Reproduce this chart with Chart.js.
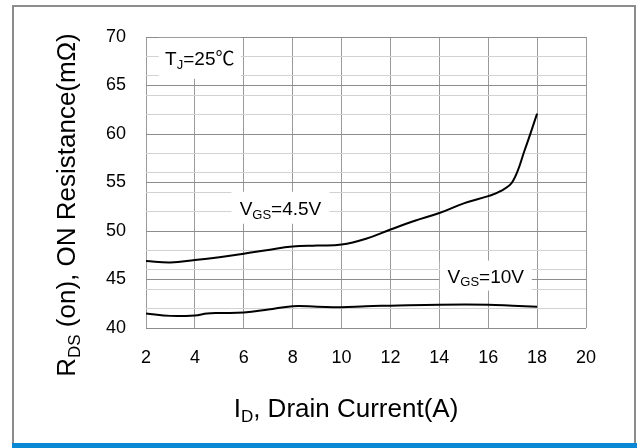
<!DOCTYPE html>
<html>
<head>
<meta charset="utf-8">
<script src="https://cdn.jsdelivr.net/npm/chart.js@4"></script>
<style>
  html, body { margin: 0; padding: 0; background: #fff; }
  canvas { display: block; }
</style>
</head>
<body>
<canvas id="chart" width="637" height="448"></canvas>
<script>
// values
var vgs45Current = [2, 3, 4, 5, 6, 7, 8, 9, 10, 11, 12, 13, 14, 15, 16, 16.5, 17, 17.5, 18];
var vgs45Rds = [46.9, 46.75, 47.0, 47.3, 47.65, 48.05, 48.4, 48.5, 48.6, 49.2, 50.15, 51.05, 51.85, 52.85, 53.6, 54.1, 55.1, 58.4, 62.1];

var vgs10Current = [2, 3, 4, 4.5, 5, 6, 7, 8, 9, 10, 11, 12, 14, 16, 17, 18];
var vgs10Rds = [41.5, 41.25, 41.3, 41.5, 41.55, 41.6, 41.9, 42.25, 42.2, 42.15, 42.25, 42.3, 42.4, 42.4, 42.3, 42.2];

var xTicks = [2, 4, 6, 8, 10, 12, 14, 16, 18, 20];
var yTicks = [40, 45, 50, 55, 60, 65, 70];

var FONT = '"Liberation Sans", Arial, "Noto Sans CJK SC", sans-serif';

function toPoints(xs, ys) {
  return xs.map(function (x, i) {
    return { x: x, y: ys[i] };
  });
}

// draw text made of normal + subscript parts, centred on x
function drawRich(ctx, parts, x, y, size) {
  var subSize = Math.round(size * 0.66);
  var widths = parts.map(function (p) {
    ctx.font = (p.sub ? subSize : size) + 'px ' + FONT;
    return ctx.measureText(p.t).width;
  });
  var total = widths.reduce(function (a, b) { return a + b; }, 0);
  var cx = x - total / 2;
  ctx.textAlign = 'left';
  ctx.textBaseline = 'alphabetic';
  parts.forEach(function (p, i) {
    ctx.font = (p.sub ? subSize : size) + 'px ' + FONT;
    ctx.fillText(p.t, cx, p.sub ? y + size * 0.2 : y);
    cx += widths[i];
  });
  return total;
}

var labels = [
  { x: 4.2, y: 67.8, w: 82, h: 41, parts: [{ t: 'T' }, { t: 'J', sub: true }, { t: '=25℃' }] },
  { x: 7.5, y: 52.4, w: 98, h: 32, parts: [{ t: 'V' }, { t: 'GS', sub: true }, { t: '=4.5V' }] },
  { x: 15.9, y: 45.4, w: 92, h: 30, parts: [{ t: 'V' }, { t: 'GS', sub: true }, { t: '=10V' }] }
];

var framePlugin = {
  id: 'frame',
  beforeDraw: function (chart) {
    var ctx = chart.ctx;
    ctx.save();
    ctx.fillStyle = '#fff';
    ctx.fillRect(0, 0, chart.width, chart.height);
    ctx.strokeStyle = '#8c8c8c';
    ctx.lineWidth = 2;
    ctx.strokeRect(13, 6, 622, 445);
    ctx.fillStyle = '#0a88d4';
    ctx.fillRect(12, 443, 625, 5);
    ctx.restore();
  },
  beforeDatasetsDraw: function (chart) {
    var ctx = chart.ctx;
    var xs = chart.scales.x, ys = chart.scales.y;
    ctx.save();
    labels.forEach(function (l) {
      var px = xs.getPixelForValue(l.x);
      var py = ys.getPixelForValue(l.y);
      ctx.fillStyle = '#fff';
      ctx.fillRect(px - l.w / 2, py - l.h / 2, l.w, l.h);
      ctx.fillStyle = '#000';
      drawRich(ctx, l.parts, px, py + 7, 19);
    });
    ctx.restore();
  },
  afterDraw: function (chart) {
    var ctx = chart.ctx;
    ctx.save();
    ctx.fillStyle = '#000';
    drawRich(ctx, [{ t: 'I' }, { t: 'D', sub: true }, { t: ', Drain Current(A)' }], 346, 417, 26);
    ctx.translate(75, 205);
    ctx.rotate(-Math.PI / 2);
    drawRich(ctx, [{ t: 'R' }, { t: 'DS', sub: true }, { t: ' (on), ON Resistance(mΩ)' }], 0, 0, 26);
    ctx.restore();
  }
};

var ctx = document.getElementById('chart').getContext('2d');

var config = {
  type: 'line',
  data: {
    datasets: [
      {
        label: 'VGS=4.5V',
        data: toPoints(vgs45Current, vgs45Rds),
        borderColor: '#000',
        borderWidth: 2,
        pointRadius: 0,
        tension: 0.4,
        fill: false
      },
      {
        label: 'VGS=10V',
        data: toPoints(vgs10Current, vgs10Rds),
        borderColor: '#000',
        borderWidth: 2,
        pointRadius: 0,
        tension: 0.4,
        fill: false
      }
    ]
  },
  options: {
    responsive: false,
    animation: false,
    devicePixelRatio: 1,
    layout: { padding: { top: 37, right: 51, bottom: 80, left: 46 } },
    plugins: {
      legend: { display: false },
      tooltip: { enabled: false }
    },
    scales: {
      x: {
        type: 'linear',
        min: xTicks[0],
        max: xTicks[xTicks.length - 1],
        afterBuildTicks: function (scale) {
          scale.ticks = xTicks.map(function (v) { return { value: v }; });
        },
        afterFit: function (scale) { scale.height = 40; },
        ticks: {
          autoSkip: false,
          maxRotation: 0,
          padding: 19,
          color: '#000',
          font: { family: FONT, size: 18 }
        },
        grid: { color: '#9a9a9a', lineWidth: 1, drawTicks: false },
        border: { display: false }
      },
      y: {
        type: 'linear',
        min: yTicks[0],
        max: yTicks[yTicks.length - 1],
        afterBuildTicks: function (scale) {
          var t = [];
          for (var v = yTicks[0]; v <= yTicks[yTicks.length - 1]; v += 1) t.push({ value: v });
          scale.ticks = t;
        },
        afterFit: function (scale) { scale.width = 100; },
        ticks: {
          autoSkip: false,
          padding: 20,
          color: '#000',
          font: { family: FONT, size: 18 },
          callback: function (value) {
            return yTicks.indexOf(value) >= 0 ? String(value) : '';
          }
        },
        grid: {
          drawTicks: false,
          lineWidth: 1,
          color: function (c) {
            var v = c.tick ? c.tick.value : 0;
            if (yTicks.indexOf(v) >= 0) return '#8c8c8c';
            if (v % 2 === 0) return '#d2d2d2';
            return 'rgba(0,0,0,0)';
          }
        },
        border: { display: false }
      }
    }
  },
  plugins: [framePlugin]
};

var chart = new Chart(ctx, config);
</script>
</body>
</html>
